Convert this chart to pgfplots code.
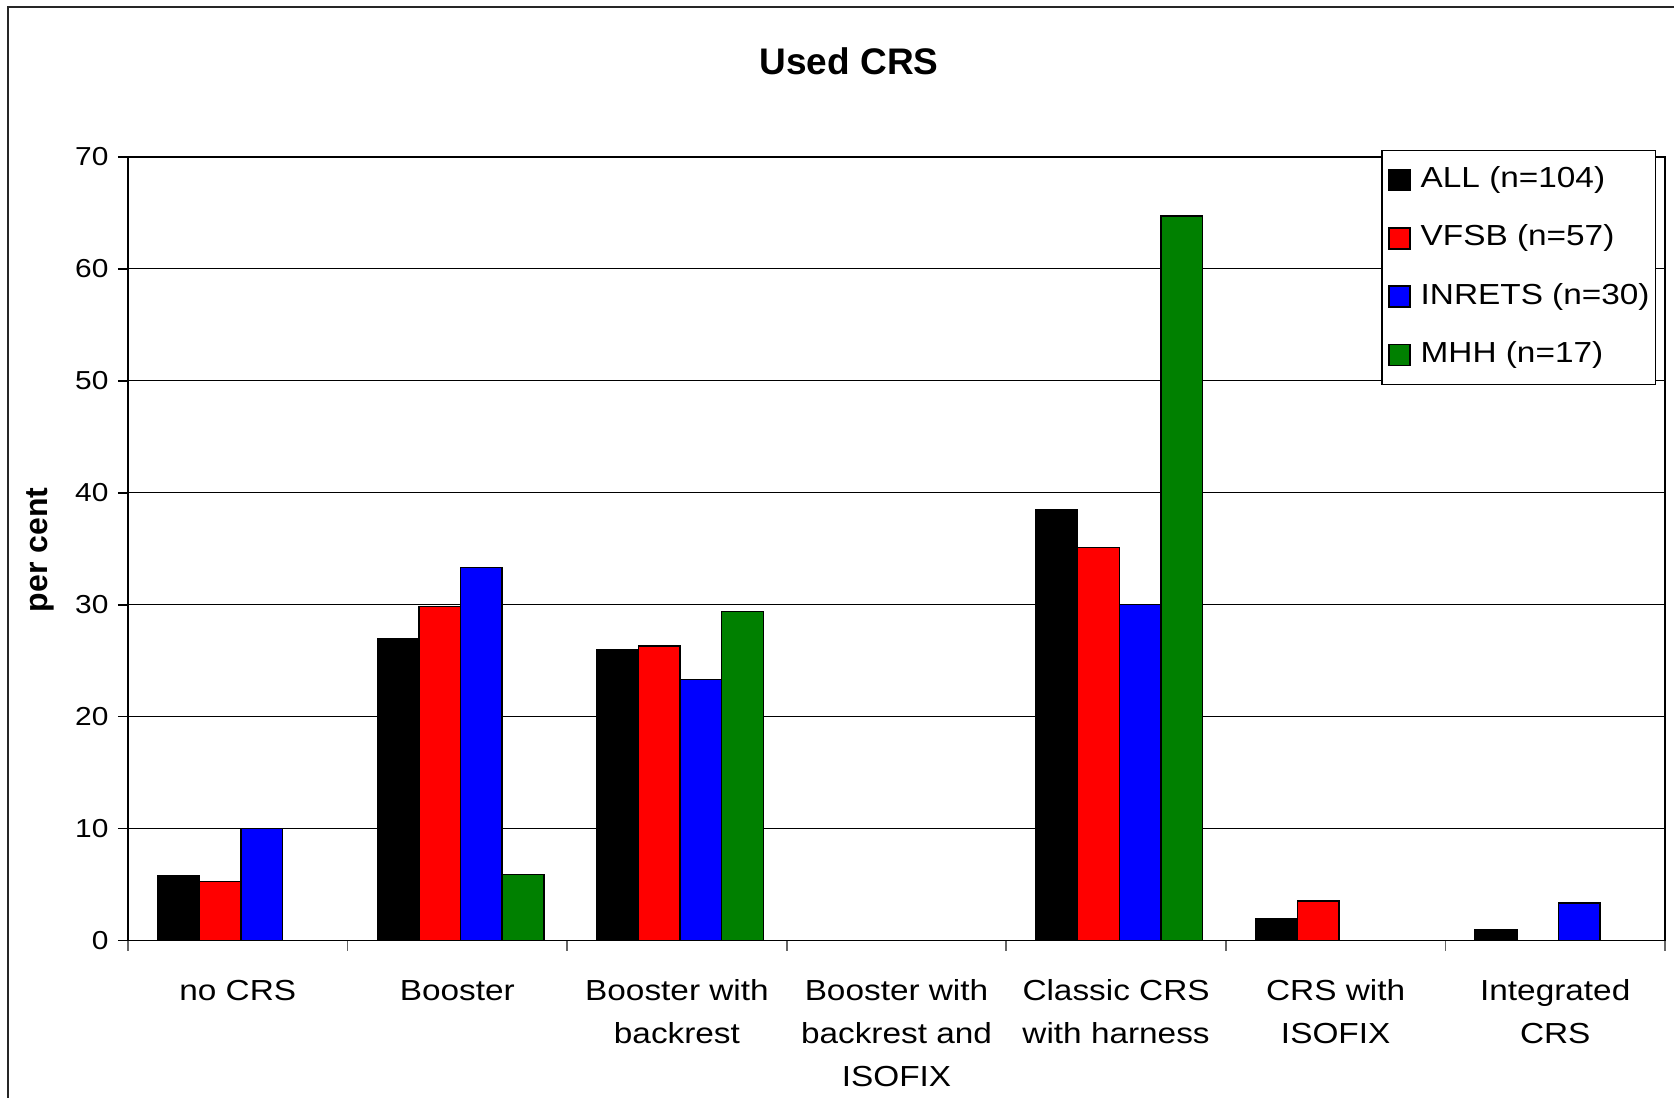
\documentclass[border=0pt]{standalone}
\usepackage{fontspec}
\setmainfont{Liberation Sans}[FakeStretch=1.15]
\newfontfamily\plainfont{Liberation Sans}
\usepackage{pgfplots}
\pgfplotsset{compat=1.18}
\definecolor{xlgreen}{RGB}{0,128,0}

% bar style with a square legend entry
\pgfplotsset{
  sq/.style={fill=#1, draw=black, line width=0.75pt, xshift=1.6pt,
    legend image code/.code={%
      \draw[##1] (0pt,-5.25pt) rectangle (10.5pt,5.25pt);
      \path (15.5pt,0pt);}},
}

\begin{document}
\begin{tikzpicture}
\useasboundingbox (0,0) rectangle (837pt,548.5pt);
\draw[line width=1pt,black!85] (4pt,-10pt) -- (4pt,545pt) -- (850pt,545pt);
\begin{axis}[
  at={(64pt,78.25pt)}, anchor=south west,
  scale only axis, width=768.5pt, height=391.75pt,
  ybar=0pt, bar width=20.8pt,
  xmin=-0.5, xmax=6.5, ymin=0, ymax=70,
  ytick={0,10,...,70},
  xtick={-0.5,0.5,...,6.5}, xticklabels={},
  extra x ticks={0,1,2,3,4,5,6},
  extra x tick labels={{\strut no CRS},{\strut Booster},{\strut Booster with\\backrest},
    {\strut Booster with\\backrest and\\ISOFIX},{\strut Classic CRS\\with harness},
    {\strut CRS with\\ISOFIX},{\strut Integrated\\CRS}},
  extra x tick style={grid=none, major tick length=0pt},
  xtick pos=bottom, ytick pos=left,
  tick align=outside, major tick length=5pt,
  xtick style={black!60, line width=0.8pt},
  ytick style={black, line width=0.8pt},
  axis line style={line width=0.8pt},
  ymajorgrids, grid style={black, line width=0.5pt},
  /pgf/number format/assume math mode=true,
  yticklabel style={font=\fontsize{13}{15}\selectfont, inner sep=0pt, xshift=-4.6pt},
  xticklabel style={font=\fontsize{14.5}{21.35}\selectfont, align=center,
    anchor=north, inner sep=0pt, yshift=-15.1pt},
  legend style={at={(0.8155,1.0095)}, anchor=north west, draw=black,
    line width=0.75pt, fill=white, font=\fontsize{14.5}{17}\selectfont,
    inner xsep=3pt, inner ysep=8.2pt, row sep=15.6pt,
    nodes={inner sep=0pt, text height=10.5pt, text depth=3pt}},
  legend cell align=left,
]
\addplot[sq=black] coordinates {(0,5.77) (1,26.92) (2,25.96) (3,0) (4,38.46) (5,1.92) (6,0.96)};
\addplot[sq=red] coordinates {(0,5.26) (1,29.82) (2,26.32) (3,0) (4,35.09) (5,3.51) (6,0)};
\addplot[sq=blue] coordinates {(0,10.00) (1,33.33) (2,23.33) (3,0) (4,30.00) (5,0) (6,3.33)};
\addplot[sq=xlgreen] coordinates {(0,0) (1,5.88) (2,29.41) (3,0) (4,64.71) (5,0) (6,0)};
\legend{ALL (n=104), VFSB (n=57), INRETS (n=30), MHH (n=17)}
\end{axis}
\node[font=\plainfont\bfseries\fontsize{18.5}{22}\selectfont] at (424.5pt,518pt) {Used CRS};
\node[rotate=90, font=\plainfont\bfseries\fontsize{16}{19}\selectfont] at (20pt,273.5pt) {per cent};
\end{tikzpicture}
\end{document}
